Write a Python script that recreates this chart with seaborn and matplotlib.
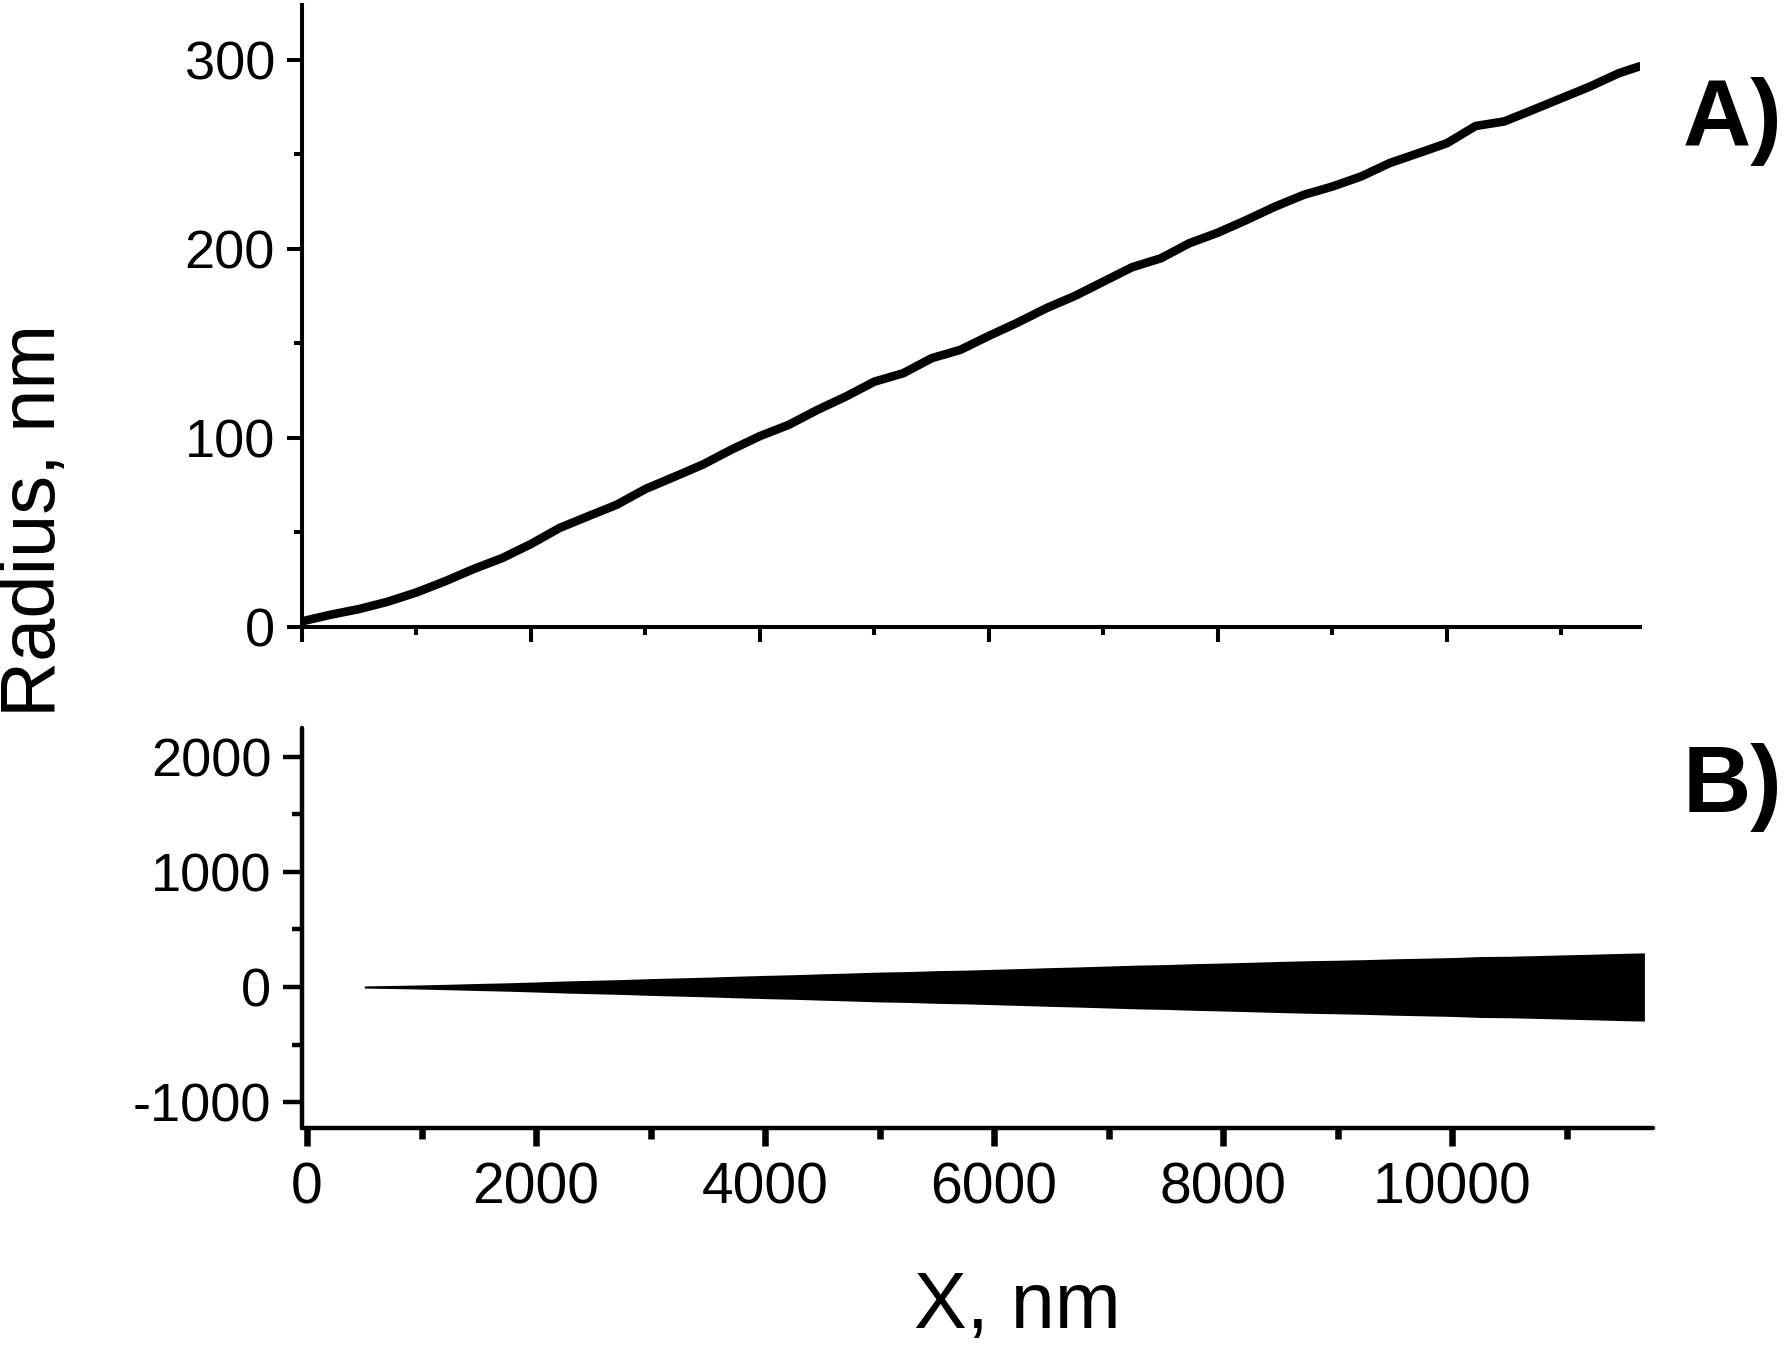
import numpy as np
import pandas as pd
import seaborn as sns
import matplotlib.pyplot as plt
from matplotlib.ticker import MultipleLocator

# radius profile (nm)
x_nm = [0, 250, 500, 750, 1000, 1250, 1500, 1750, 2000, 2250, 2500, 2750,
        3000, 3250, 3500, 3750, 4000, 4250, 4500, 4750, 5000, 5250, 5500, 5750,
        6000, 6250, 6500, 6750, 7000, 7250, 7500, 7750, 8000, 8250, 8500, 8750,
        9000, 9250, 9500, 9750, 10000, 10250, 10500, 10750, 11000, 11250, 11500, 11680]
radius_nm = [3.0, 6.5, 9.5, 13.4, 18.3, 24.2, 30.7, 36.5, 43.9, 52.4, 58.6, 64.7,
             73.0, 79.4, 85.9, 93.8, 101.0, 106.9, 114.8, 121.9, 129.8, 134.2, 142.2, 146.6,
             154.0, 161.0, 168.6, 175.1, 182.7, 190.3, 195.0, 203.0, 208.6, 215.3, 222.4, 228.6,
             233.0, 238.3, 245.4, 250.6, 255.9, 265.0, 267.4, 273.5, 279.7, 285.9, 292.9, 296.5]

top_yticks = [0, 100, 200, 300]
bottom_yticks = [-1000, 0, 1000, 2000]
bottom_xticks = [0, 2000, 4000, 6000, 8000, 10000]

df = pd.DataFrame({"x": x_nm, "r": radius_nm})

sns.set_style("ticks")
plt.rcParams['font.family'] = ['Liberation Sans', 'DejaVu Sans']
plt.rcParams['axes.unicode_minus'] = False
plt.rcParams['text.color'] = 'black'
plt.rcParams['axes.labelcolor'] = 'black'
plt.rcParams['xtick.color'] = 'black'
plt.rcParams['ytick.color'] = 'black'

W, H = 1788, 1346
fig = plt.figure(figsize=(W / 100, H / 100), dpi=100)

# ---- panel A ----
ax1 = fig.add_axes([302 / W, 1 - 627 / H, (1640 - 302) / W, (627 - 5) / H])
sns.lineplot(data=df, x="x", y="r", ax=ax1, color="black", linewidth=6.2,
             solid_capstyle="round")
ax1.set_xlim(0, 11686)
ax1.set_ylim(0, 329)
ax1.xaxis.set_major_locator(MultipleLocator(2000))
ax1.xaxis.set_minor_locator(MultipleLocator(1000))
ax1.set_yticks(top_yticks)
ax1.yaxis.set_minor_locator(MultipleLocator(50))
ax1.set_xticklabels([])
ax1.tick_params(which="major", length=11, width=2.9, direction="out", pad=8.5,
                labelsize=39, color="black", labelcolor="black")
ax1.tick_params(which="minor", length=6, width=2.9, direction="out", color="black")
ax1.set_xlabel("")
ax1.set_ylabel("")
for s in ["top", "right"]:
    ax1.spines[s].set_visible(False)
for s in ["left", "bottom"]:
    ax1.spines[s].set_linewidth(2.9)
    ax1.spines[s].set_color("black")

# ---- panel B ----
ax2 = fig.add_axes([302 / W, 1 - 1128 / H, (1653 - 302) / W, (1128 - 728) / H])
sub = df[df["x"] >= 500]
ax2.fill_between(sub["x"], -sub["r"], sub["r"], color="black", linewidth=0)
ax2.set_xlim(-44, 11755)
ax2.set_ylim(-1226, 2252)
ax2.set_xticks(bottom_xticks)
ax2.xaxis.set_minor_locator(MultipleLocator(1000))
ax2.set_yticks(bottom_yticks)
ax2.yaxis.set_minor_locator(MultipleLocator(500))
ax2.tick_params(axis="y", which="major", length=13.5, width=3.2, direction="out",
                pad=8.5, labelsize=39, color="black", labelcolor="black")
ax2.tick_params(axis="y", which="minor", length=7, width=3.2, direction="out", color="black")
ax2.tick_params(axis="x", which="major", length=13, width=4.7, direction="out",
                pad=11, labelsize=41, color="black", labelcolor="black")
ax2.tick_params(axis="x", which="minor", length=8, width=4.7, direction="out", color="black")
for s in ["top", "right"]:
    ax2.spines[s].set_visible(False)
for s in ["left", "bottom"]:
    ax2.spines[s].set_linewidth(3.2)
    ax2.spines[s].set_color("black")
    ax2.spines[s].set_capstyle("round")

# labels
fig.text(35 / W, 1 - 520 / H, "Radius, nm", rotation=90, ha="center", va="center",
         fontsize=56, color="black")
fig.text(1017 / W, 1 - 1328 / H, "X, nm", ha="center", va="baseline", fontsize=57,
         color="black")
fig.text(1683 / W, 1 - 146 / H, "A)", ha="left", va="baseline", fontsize=68,
         fontweight="bold", color="black")
fig.text(1683 / W, 1 - 812 / H, "B)", ha="left", va="baseline", fontsize=68,
         fontweight="bold", color="black")

fig.savefig("out.png", dpi=100, facecolor="white")
